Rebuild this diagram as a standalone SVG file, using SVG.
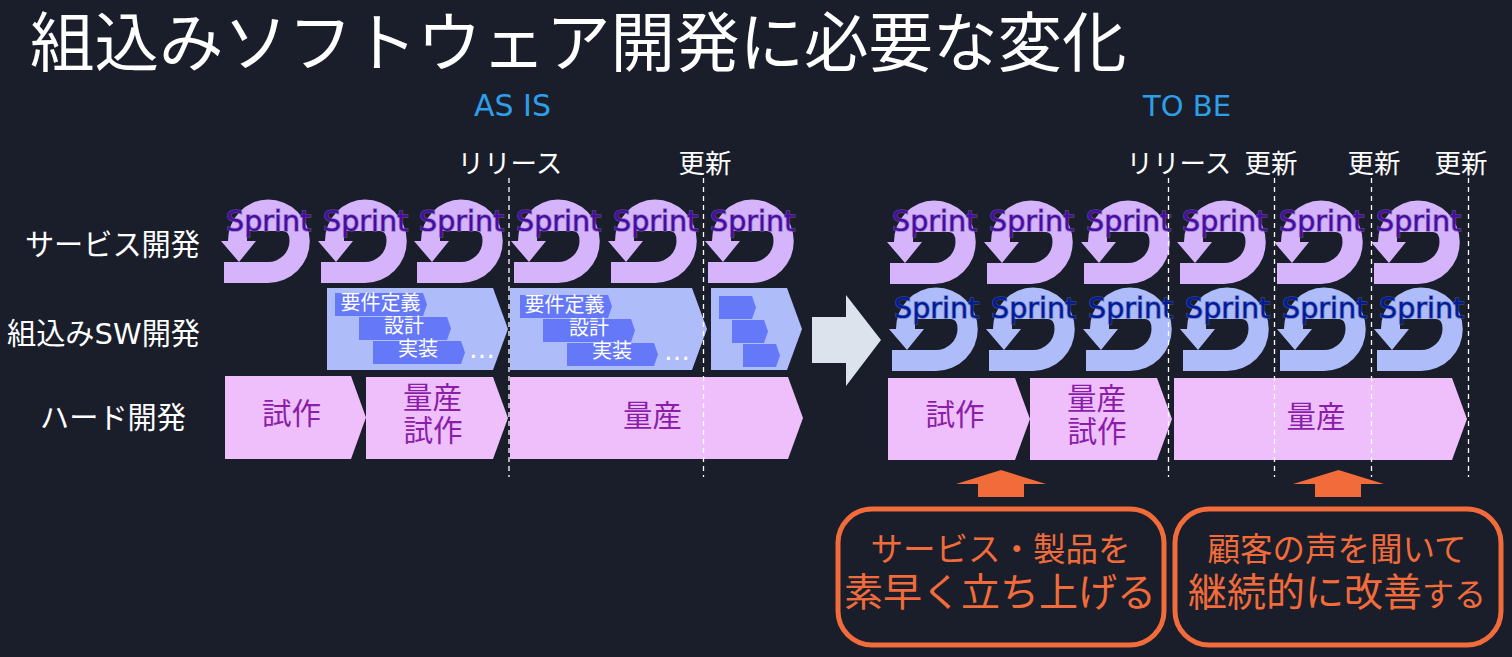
<svg xmlns="http://www.w3.org/2000/svg" width="1512" height="657" viewBox="0 0 1512 657">
<style>
text{font-family:"Noto Sans CJK JP","Noto Sans",sans-serif}
.w{fill:#fff;font-size:26.5px}
.lab{fill:#fff;font-size:29.2px;text-anchor:end}
.lat{font-family:"DejaVu Sans",sans-serif;font-size:29px}
.hd{fill:#2f9ee8;font-size:29px;font-family:"DejaVu Sans",sans-serif;text-anchor:middle}
.sp{font-family:"DejaVu Sans",sans-serif;font-size:28.6px;stroke-width:1.6px;stroke-opacity:.65;paint-order:stroke}
.s1{fill:#d5b4fb}.s2{fill:#aebcfa}
.t1{fill:#4a0aa8;stroke:#6f6098}.t2{fill:#001a9c;stroke:#4a5a98}
.hw{fill:#efbffc}.sw{fill:#aebcfa}.in{fill:#6478f8}
.ht{fill:#8a1ea8;font-size:29.5px;text-anchor:middle}
.it{fill:#fff;font-size:20px}
.dots{fill:#fff;font-size:26px;font-family:"DejaVu Sans",sans-serif}
.or{fill:#f26b3a}
.ot{fill:#f26b3a;text-anchor:middle}
.box{fill:none;stroke:#f26b3a;stroke-width:5px}
.dash{stroke:#fff;stroke-width:1.3px;stroke-dasharray:5 4}
</style>
<defs>
<path id="u" d="M0 84V63H44A21.5 21 0 0 0 65.500 42Q65.500 32 59 32H23V42H32L15 63L-3 42H4A40 41.500 0 0 1 44 .5A41.750 41.750 0 0 1 44 84Z"/>
</defs>
<rect width="1512" height="657" fill="#191e2a"/>
<g id="title"><text x="30" y="66" fill="#fff" font-size="64.5">組込みソフトウェア開発に必要な変化</text></g>
<g id="headers">
<text class="hd" x="512.500" y="116" font-size="30" style="font-size:30px">AS IS</text>
<text class="hd" x="1187" y="116">TO BE</text>
<text class="w" x="457.500" y="173">リリース</text>
<text class="w" x="678.500" y="173">更新</text>
<text class="w" x="1126.500" y="173">リリース</text>
<text class="w" x="1244.500" y="173">更新</text>
<text class="w" x="1347.500" y="173">更新</text>
<text class="w" x="1434.500" y="173">更新</text>
</g>
<g id="row-labels">
<text class="lab" x="200" y="255">サービス開発</text>
<text class="lab" x="200" y="344">組込み<tspan class="lat">SW</tspan>開発</text>
<text class="lab" x="186" y="428">ハード開発</text>
</g>
<g id="asis-service">
<g id="a1"><use href="#u" class="s1" x="224" y="199"/><text class="sp t1" x="226" y="231">Sprint</text></g>
<g id="a2"><use href="#u" class="s1" x="321" y="199"/><text class="sp t1" x="323" y="231">Sprint</text></g>
<g id="a3"><use href="#u" class="s1" x="417" y="199"/><text class="sp t1" x="419" y="231">Sprint</text></g>
<g id="a4"><use href="#u" class="s1" x="514" y="199"/><text class="sp t1" x="516" y="231">Sprint</text></g>
<g id="a5"><use href="#u" class="s1" x="611" y="199"/><text class="sp t1" x="613" y="231">Sprint</text></g>
<g id="a6"><use href="#u" class="s1" x="708" y="199"/><text class="sp t1" x="710" y="231">Sprint</text></g>
</g>
<g id="asis-sw">
<g id="sw1"><polygon class="sw" points="327,288 493,288 508,329 493,370 327,370"/>
<polygon class="in" points="335,293 423,293 427,304.500 423,316 335,316"/><polygon class="in" points="359,317 447,317 451,328.500 447,340 359,340"/><polygon class="in" points="373,341 461,341 465,352.500 461,364 373,364"/>
<text class="it" x="340.500" y="310">要件定義</text><text class="it" x="384" y="333">設計</text><text class="it" x="398" y="356">実装</text><text class="dots" x="469" y="358">…</text></g>
<g id="sw2"><polygon class="sw" points="510,288 692,288 707,329 692,370 510,370"/>
<polygon class="in" points="520,295 608,295 612,306.500 608,318 520,318"/><polygon class="in" points="543,319 631,319 635,330.500 631,342 543,342"/><polygon class="in" points="567,343 654,343 658,354.500 654,366 567,366"/>
<text class="it" x="524.500" y="312">要件定義</text><text class="it" x="569" y="335">設計</text><text class="it" x="592" y="358">実装</text><text class="dots" x="664" y="360">…</text></g>
<g id="sw3"><polygon class="sw" points="711,288 787,288 802,329 787,370 711,370"/>
<polygon class="in" points="719,296 752,296 756,307.500 752,319 719,319"/><polygon class="in" points="732,320 764,320 768,331.500 764,343 732,343"/><polygon class="in" points="743,344 776,344 780,355.500 776,367 743,367"/></g>
</g>
<g id="asis-hw">
<g id="h1"><polygon class="hw" points="225,376 351,376 366,417.500 351,459 225,459"/><text class="ht" x="291.500" y="424">試作</text></g>
<g id="h2"><polygon class="hw" points="366,377 493,377 508,418 493,459 366,459"/><text class="ht" x="432.500" y="408">量産</text><text class="ht" x="433" y="441">試作</text></g>
<g id="h3"><polygon class="hw" points="510,377 788,377 803,418 788,459 510,459"/><text class="ht" x="652.500" y="426">量産</text></g>
</g>
<g id="big-arrow"><polygon points="812,317 846,317 846,295 881,340 846,386 846,363 812,363" fill="#dde3ec"/></g>
<g id="tobe-service">
<g id="b1"><use href="#u" class="s1" x="890" y="200"/><text class="sp t1" x="892" y="231">Sprint</text></g>
<g id="b2"><use href="#u" class="s1" x="987" y="200"/><text class="sp t1" x="989" y="231">Sprint</text></g>
<g id="b3"><use href="#u" class="s1" x="1084" y="200"/><text class="sp t1" x="1086" y="231">Sprint</text></g>
<g id="b4"><use href="#u" class="s1" x="1180" y="200"/><text class="sp t1" x="1182" y="231">Sprint</text></g>
<g id="b5"><use href="#u" class="s1" x="1277" y="200"/><text class="sp t1" x="1279" y="231">Sprint</text></g>
<g id="b6"><use href="#u" class="s1" x="1374" y="200"/><text class="sp t1" x="1376" y="231">Sprint</text></g>
</g>
<g id="tobe-sw">
<g id="c1"><use href="#u" class="s2" x="892" y="287"/><text class="sp t2" x="894" y="318">Sprint</text></g>
<g id="c2"><use href="#u" class="s2" x="989" y="287"/><text class="sp t2" x="991" y="318">Sprint</text></g>
<g id="c3"><use href="#u" class="s2" x="1086" y="287"/><text class="sp t2" x="1088" y="318">Sprint</text></g>
<g id="c4"><use href="#u" class="s2" x="1183" y="287"/><text class="sp t2" x="1185" y="318">Sprint</text></g>
<g id="c5"><use href="#u" class="s2" x="1280" y="287"/><text class="sp t2" x="1282" y="318">Sprint</text></g>
<g id="c6"><use href="#u" class="s2" x="1377" y="287"/><text class="sp t2" x="1379" y="318">Sprint</text></g>
</g>
<g id="tobe-hw">
<g id="d1"><polygon class="hw" points="888,378 1015,378 1030,419 1015,460 888,460"/><text class="ht" x="955" y="425">試作</text></g>
<g id="d2"><polygon class="hw" points="1030,378 1157,378 1172,419 1157,460 1030,460"/><text class="ht" x="1096.500" y="409">量産</text><text class="ht" x="1097" y="442">試作</text></g>
<g id="d3"><polygon class="hw" points="1174,378 1452,378 1467,419 1452,460 1174,460"/><text class="ht" x="1316" y="427">量産</text></g>
</g>
<g id="connectors">
<line class="dash" x1="509" y1="178" x2="509" y2="477"/>
<line class="dash" x1="703.500" y1="178" x2="703.500" y2="477"/>
<line class="dash" x1="1168.500" y1="178" x2="1168.500" y2="477"/>
<line class="dash" x1="1274.500" y1="178" x2="1274.500" y2="477"/>
<line class="dash" x1="1371.500" y1="178" x2="1371.500" y2="477"/>
<line class="dash" x1="1468.500" y1="178" x2="1468.500" y2="477"/>
<polygon class="or" points="1001,470 1046,484 1024,484 1024,497 978,497 978,484 956,484"/>
<polygon class="or" points="1338.500,470 1384,484 1361,484 1361,497 1315,497 1315,484 1293,484"/>
</g>
<g id="box-launch"><rect class="box" x="838" y="509" width="326" height="136" rx="34"/>
<text class="ot" x="1000.500" y="561" font-size="32.5">サービス・製品を</text><text class="ot" x="1000" y="606" font-size="39">素早く立ち上げる</text></g>
<g id="box-improve"><rect class="box" x="1175" y="509" width="326" height="136" rx="34"/>
<text class="ot" x="1337" y="561" font-size="32.5">顧客の声を聞いて</text><text class="ot" x="1337" y="606" font-size="39">継続的に改善<tspan font-size="32">する</tspan></text></g>
</svg>
